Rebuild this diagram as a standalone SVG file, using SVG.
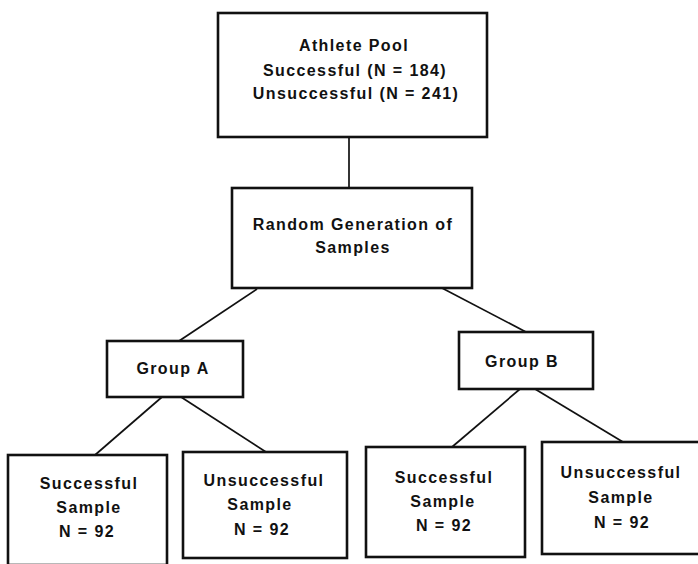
<svg xmlns="http://www.w3.org/2000/svg" width="698" height="564" viewBox="0 0 698 564">
<style>
.box{fill:#fff;stroke:#111;stroke-width:2.6}
.ln{stroke:#111;stroke-width:1.7;fill:none}
text{font-family:"Liberation Sans",Arial,sans-serif;font-weight:bold;font-size:16px;letter-spacing:1.4px;fill:#111;text-anchor:middle}
</style>
<rect width="698" height="564" fill="#fff"/>
<g id="connectors">
<line class="ln" x1="349" y1="138" x2="349" y2="188"/>
<line class="ln" x1="257" y1="289" x2="179" y2="341"/>
<line class="ln" x1="440" y1="287" x2="526" y2="332"/>
<line class="ln" x1="162" y1="397" x2="95" y2="455"/>
<line class="ln" x1="181" y1="397" x2="266" y2="452"/>
<line class="ln" x1="520" y1="389" x2="452" y2="447"/>
<line class="ln" x1="535" y1="389" x2="623" y2="442"/>
</g>
<g id="athlete-pool">
<rect class="box" x="218" y="13" width="269" height="124"/>
<text x="354" y="51">Athlete Pool</text>
<text x="355" y="76">Successful (N = 184)</text>
<text x="356" y="99">Unsuccessful (N = 241)</text>
</g>
<g id="random-generation">
<rect class="box" x="232" y="188" width="240" height="100"/>
<text x="353" y="230">Random Generation of</text>
<text x="353" y="253">Samples</text>
</g>
<g id="group-a">
<rect class="box" x="107" y="341" width="136" height="56"/>
<text x="173" y="374">Group A</text>
</g>
<g id="group-b">
<rect class="box" x="459" y="332" width="134" height="57"/>
<text x="522" y="367">Group B</text>
</g>
<g id="a-successful">
<rect class="box" x="8" y="455" width="159" height="110"/>
<text x="89" y="489">Successful</text>
<text x="89" y="513">Sample</text>
<text x="87" y="537">N = 92</text>
</g>
<g id="a-unsuccessful">
<rect class="box" x="183" y="452" width="164" height="106"/>
<text x="264" y="486">Unsuccessful</text>
<text x="260" y="510">Sample</text>
<text x="262" y="535">N = 92</text>
</g>
<g id="b-successful">
<rect class="box" x="366" y="447" width="159" height="110"/>
<text x="444" y="483">Successful</text>
<text x="443" y="507">Sample</text>
<text x="444" y="531">N = 92</text>
</g>
<g id="b-unsuccessful">
<rect class="box" x="542" y="442" width="160" height="112"/>
<text x="621" y="478">Unsuccessful</text>
<text x="621" y="503">Sample</text>
<text x="622" y="528">N = 92</text>
</g>
</svg>
